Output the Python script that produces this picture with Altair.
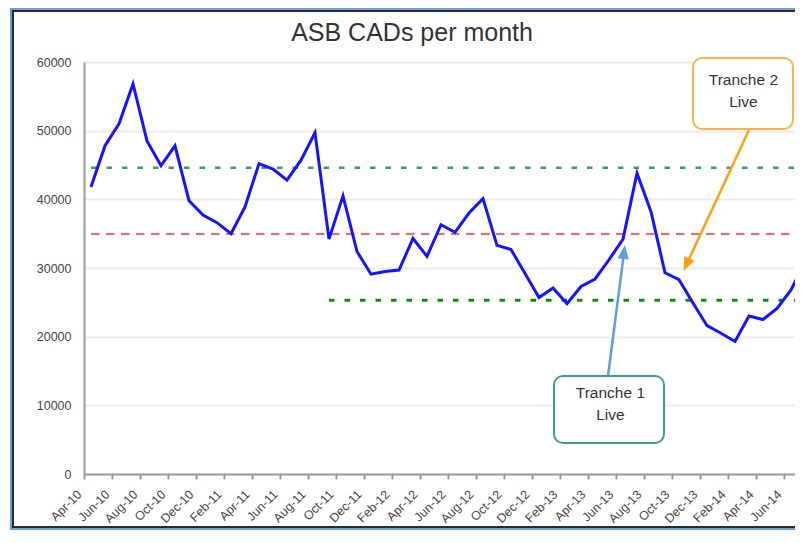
import json
import math
import altair as alt
import pandas as pd

# ---------------- data ----------------
chart_title = "ASB CADs per month"
months = [
    "Apr-10", "May-10", "Jun-10", "Jul-10", "Aug-10", "Sep-10", "Oct-10", "Nov-10", "Dec-10",
    "Jan-11", "Feb-11", "Mar-11", "Apr-11", "May-11", "Jun-11", "Jul-11", "Aug-11", "Sep-11",
    "Oct-11", "Nov-11", "Dec-11", "Jan-12", "Feb-12", "Mar-12", "Apr-12", "May-12", "Jun-12",
    "Jul-12", "Aug-12", "Sep-12", "Oct-12", "Nov-12", "Dec-12", "Jan-13", "Feb-13", "Mar-13",
    "Apr-13", "May-13", "Jun-13", "Jul-13", "Aug-13", "Sep-13", "Oct-13", "Nov-13", "Dec-13",
    "Jan-14", "Feb-14", "Mar-14", "Apr-14", "May-14", "Jun-14", "Jul-14",
]
cads = [
    41800, 47800, 51000, 56800, 48500, 44900, 47800, 39800, 37700,
    36600, 35000, 38900, 45200, 44400, 42800, 45700, 49700, 34200,
    40500, 32400, 29100, 29500, 29700, 34300, 31700, 36300, 35200,
    38000, 40100, 33300, 32700, 29200, 25700, 27100, 24800, 27300,
    28400, 31200, 34200, 43800, 38200, 29300, 28300, 24900, 21600,
    20500, 19300, 23000, 22500, 24100, 26800, 30800,
]
mean_level = 34950
upper_level = 44600
lower_level = 25300
upper_start = 0
mean_start = 0
lower_start = 17

label_step = 2
y_ticks = [0, 10000, 20000, 30000, 40000, 50000, 60000]

# annotation boxes (month index / value units)
box_labels = [["Tranche 1", "Live"], ["Tranche 2", "Live"]]
box_x = [33.07, 43.0]
box_x2 = [40.93, 50.14]
box_y = [14270, 60580]
box_y2 = [4515, 50240]
box_colors = ["#3a9c99", "#fbb24e"]
text_x = [37.1, 46.6]
text_y1 = [11800, 57380]
text_y2 = [8590, 54170]
arrow_x0 = [36.93, 47.0]
arrow_y0 = [14270, 50100]
arrow_x1 = [38.14, 42.32]
arrow_y1 = [33350, 29560]
arrow_colors = ["#5d9fd8", "#ffa010"]

# ---------------- layout ----------------
PLOT_W = 711
PLOT_H = 412
MONTH_PX = 14.0
Y_MAX = 60000
x_domain = [-0.5, -0.5 + PLOT_W / MONTH_PX]
FONT = "Liberation Sans"

xs = alt.Scale(domain=x_domain, nice=False, zero=False)
ys = alt.Scale(domain=[0, Y_MAX], nice=False)

df = pd.DataFrame({"idx": list(range(len(cads))), "month": months, "cads": cads})
last = len(cads) - 1

label_expr = json.dumps(months) + "[datum.value]"

x_axis = alt.Axis(
    values=list(range(0, len(cads), label_step)),
    labelExpr=label_expr,
    labelAngle=-45,
    labelAlign="right",
    labelBaseline="middle",
    labelFont=FONT,
    labelFontSize=12.5,
    labelColor="#444444",
    labelPadding=13,
    labelOverlap=False,
    labelFlush=False,
    labelBound=False,
    tickOffset=-7,
    labelOffset=-5,
    tickSize=5,
    tickColor="#999999",
    tickWidth=2,
    domainColor="#999999",
    domainWidth=2,
    grid=False,
    title=None,
)
y_axis = alt.Axis(
    values=y_ticks,
    format="d",
    grid=True,
    gridColor="#ececec",
    gridWidth=2,
    domainColor="#999999",
    domainWidth=2,
    ticks=False,
    labelPadding=13,
    labelFont=FONT,
    labelFontSize=12.5,
    labelColor="#444444",
    title=None,
)


def X(field):
    return alt.X(field, scale=xs, axis=x_axis)


def Y(field):
    return alt.Y(field, scale=ys, axis=y_axis)


# frame around the whole chart + title
one = pd.DataFrame({"k": [0]})
frame_outer = alt.Chart(one).mark_rect(
    fillOpacity=0, stroke="#6a9fd4", strokeWidth=2
).encode(
    x=alt.value(-73), x2=alt.value(PLOT_W + 40), y=alt.value(-53), y2=alt.value(467)
)
frame_inner = alt.Chart(one).mark_rect(
    fillOpacity=0, stroke="#2a2a2a", strokeWidth=2
).encode(
    x=alt.value(-71), x2=alt.value(PLOT_W + 40), y=alt.value(-51), y2=alt.value(465)
)
title = alt.Chart(one).mark_text(
    font=FONT, fontSize=25, color="#333333", align="center", baseline="middle"
).encode(x=alt.value(328), y=alt.value(-29), text=alt.value(chart_title))

line = alt.Chart(df).mark_line(color="#1414ff", strokeWidth=3, clip=True).encode(
    x=X("idx:Q"), y=Y("cads:Q")
)

ctrl = pd.DataFrame({
    "x": [upper_start, mean_start, lower_start],
    "x2": [last, last, last],
    "y": [upper_level, mean_level, lower_level],
    "kind": ["upper", "mean", "lower"],
})
upper_rule = alt.Chart(ctrl[ctrl.kind == "upper"]).mark_rule(
    color="#3f9a6a", strokeWidth=2.5, strokeDash=[5.5, 10], clip=True
).encode(x=X("x:Q"), x2="x2", y=Y("y:Q"))
mean_rule = alt.Chart(ctrl[ctrl.kind == "mean"]).mark_rule(
    color="#ff6464", strokeWidth=2, strokeDash=[8.5, 6.5], clip=True
).encode(x=X("x:Q"), x2="x2", y=Y("y:Q"))
lower_rule = alt.Chart(ctrl[ctrl.kind == "lower"]).mark_rule(
    color="#0e8a0e", strokeWidth=3, strokeDash=[5.5, 10], clip=True
).encode(x=X("x:Q"), x2="x2", y=Y("y:Q"))

# arrows
px_per_x = MONTH_PX
px_per_y = PLOT_H / Y_MAX
HEAD_SIZE = 196  # symbol area -> half length = 7 px
head_half = math.sqrt(HEAD_SIZE) / 2
arrow_layers = []
for i in range(len(arrow_x0)):
    dxp = (arrow_x1[i] - arrow_x0[i]) * px_per_x
    dyp = -(arrow_y1[i] - arrow_y0[i]) * px_per_y
    L = math.hypot(dxp, dyp)
    ux, uy = dxp / L, dyp / L
    cx = arrow_x1[i] - ux * head_half / px_per_x
    cy = arrow_y1[i] + uy * head_half / px_per_y
    ex = arrow_x1[i] - ux * (2 * head_half - 1) / px_per_x
    ey = arrow_y1[i] + uy * (2 * head_half - 1) / px_per_y
    ang = math.degrees(math.atan2(ux, -uy)) % 360
    seg = pd.DataFrame({"x": [arrow_x0[i]], "y": [arrow_y0[i]], "x2": [ex], "y2": [ey]})
    arrow_layers.append(
        alt.Chart(seg).mark_rule(color=arrow_colors[i], strokeWidth=2.5).encode(
            x=X("x:Q"), y=Y("y:Q"), x2="x2", y2="y2"
        )
    )
    head = pd.DataFrame({"x": [cx], "y": [cy]})
    arrow_layers.append(
        alt.Chart(head).mark_point(
            shape="M0,-1L0.8,1L-0.8,1Z", filled=True, size=HEAD_SIZE, angle=ang,
            color=arrow_colors[i], opacity=1,
        ).encode(x=X("x:Q"), y=Y("y:Q"))
    )

# boxes and their texts
box_layers = []
for i in range(len(box_x)):
    b = pd.DataFrame({"x": [box_x[i]], "x2": [box_x2[i]], "y": [box_y[i]], "y2": [box_y2[i]]})
    box_layers.append(
        alt.Chart(b).mark_rect(
            fill="white", stroke=box_colors[i], strokeWidth=2, cornerRadius=9
        ).encode(x=X("x:Q"), x2="x2", y=Y("y:Q"), y2="y2")
    )
    t = pd.DataFrame({
        "x": [text_x[i], text_x[i]],
        "y": [text_y1[i], text_y2[i]],
        "t": box_labels[i],
    })
    box_layers.append(
        alt.Chart(t).mark_text(
            font=FONT, fontSize=15.5, color="#333333", align="center", baseline="middle"
        ).encode(x=X("x:Q"), y=Y("y:Q"), text="t:N")
    )

chart = alt.layer(
    frame_outer, frame_inner, title, upper_rule, mean_rule, lower_rule, line,
    *arrow_layers, *box_layers,
).properties(
    width=PLOT_W,
    height=PLOT_H,
    autosize=alt.AutoSizeParams(type="none"),
    padding={"left": 76, "top": 54, "right": 0, "bottom": 56},
    background="white",
).configure_view(stroke=None)

chart.save("out.html", embed_options={"renderer": "svg", "actions": False})
